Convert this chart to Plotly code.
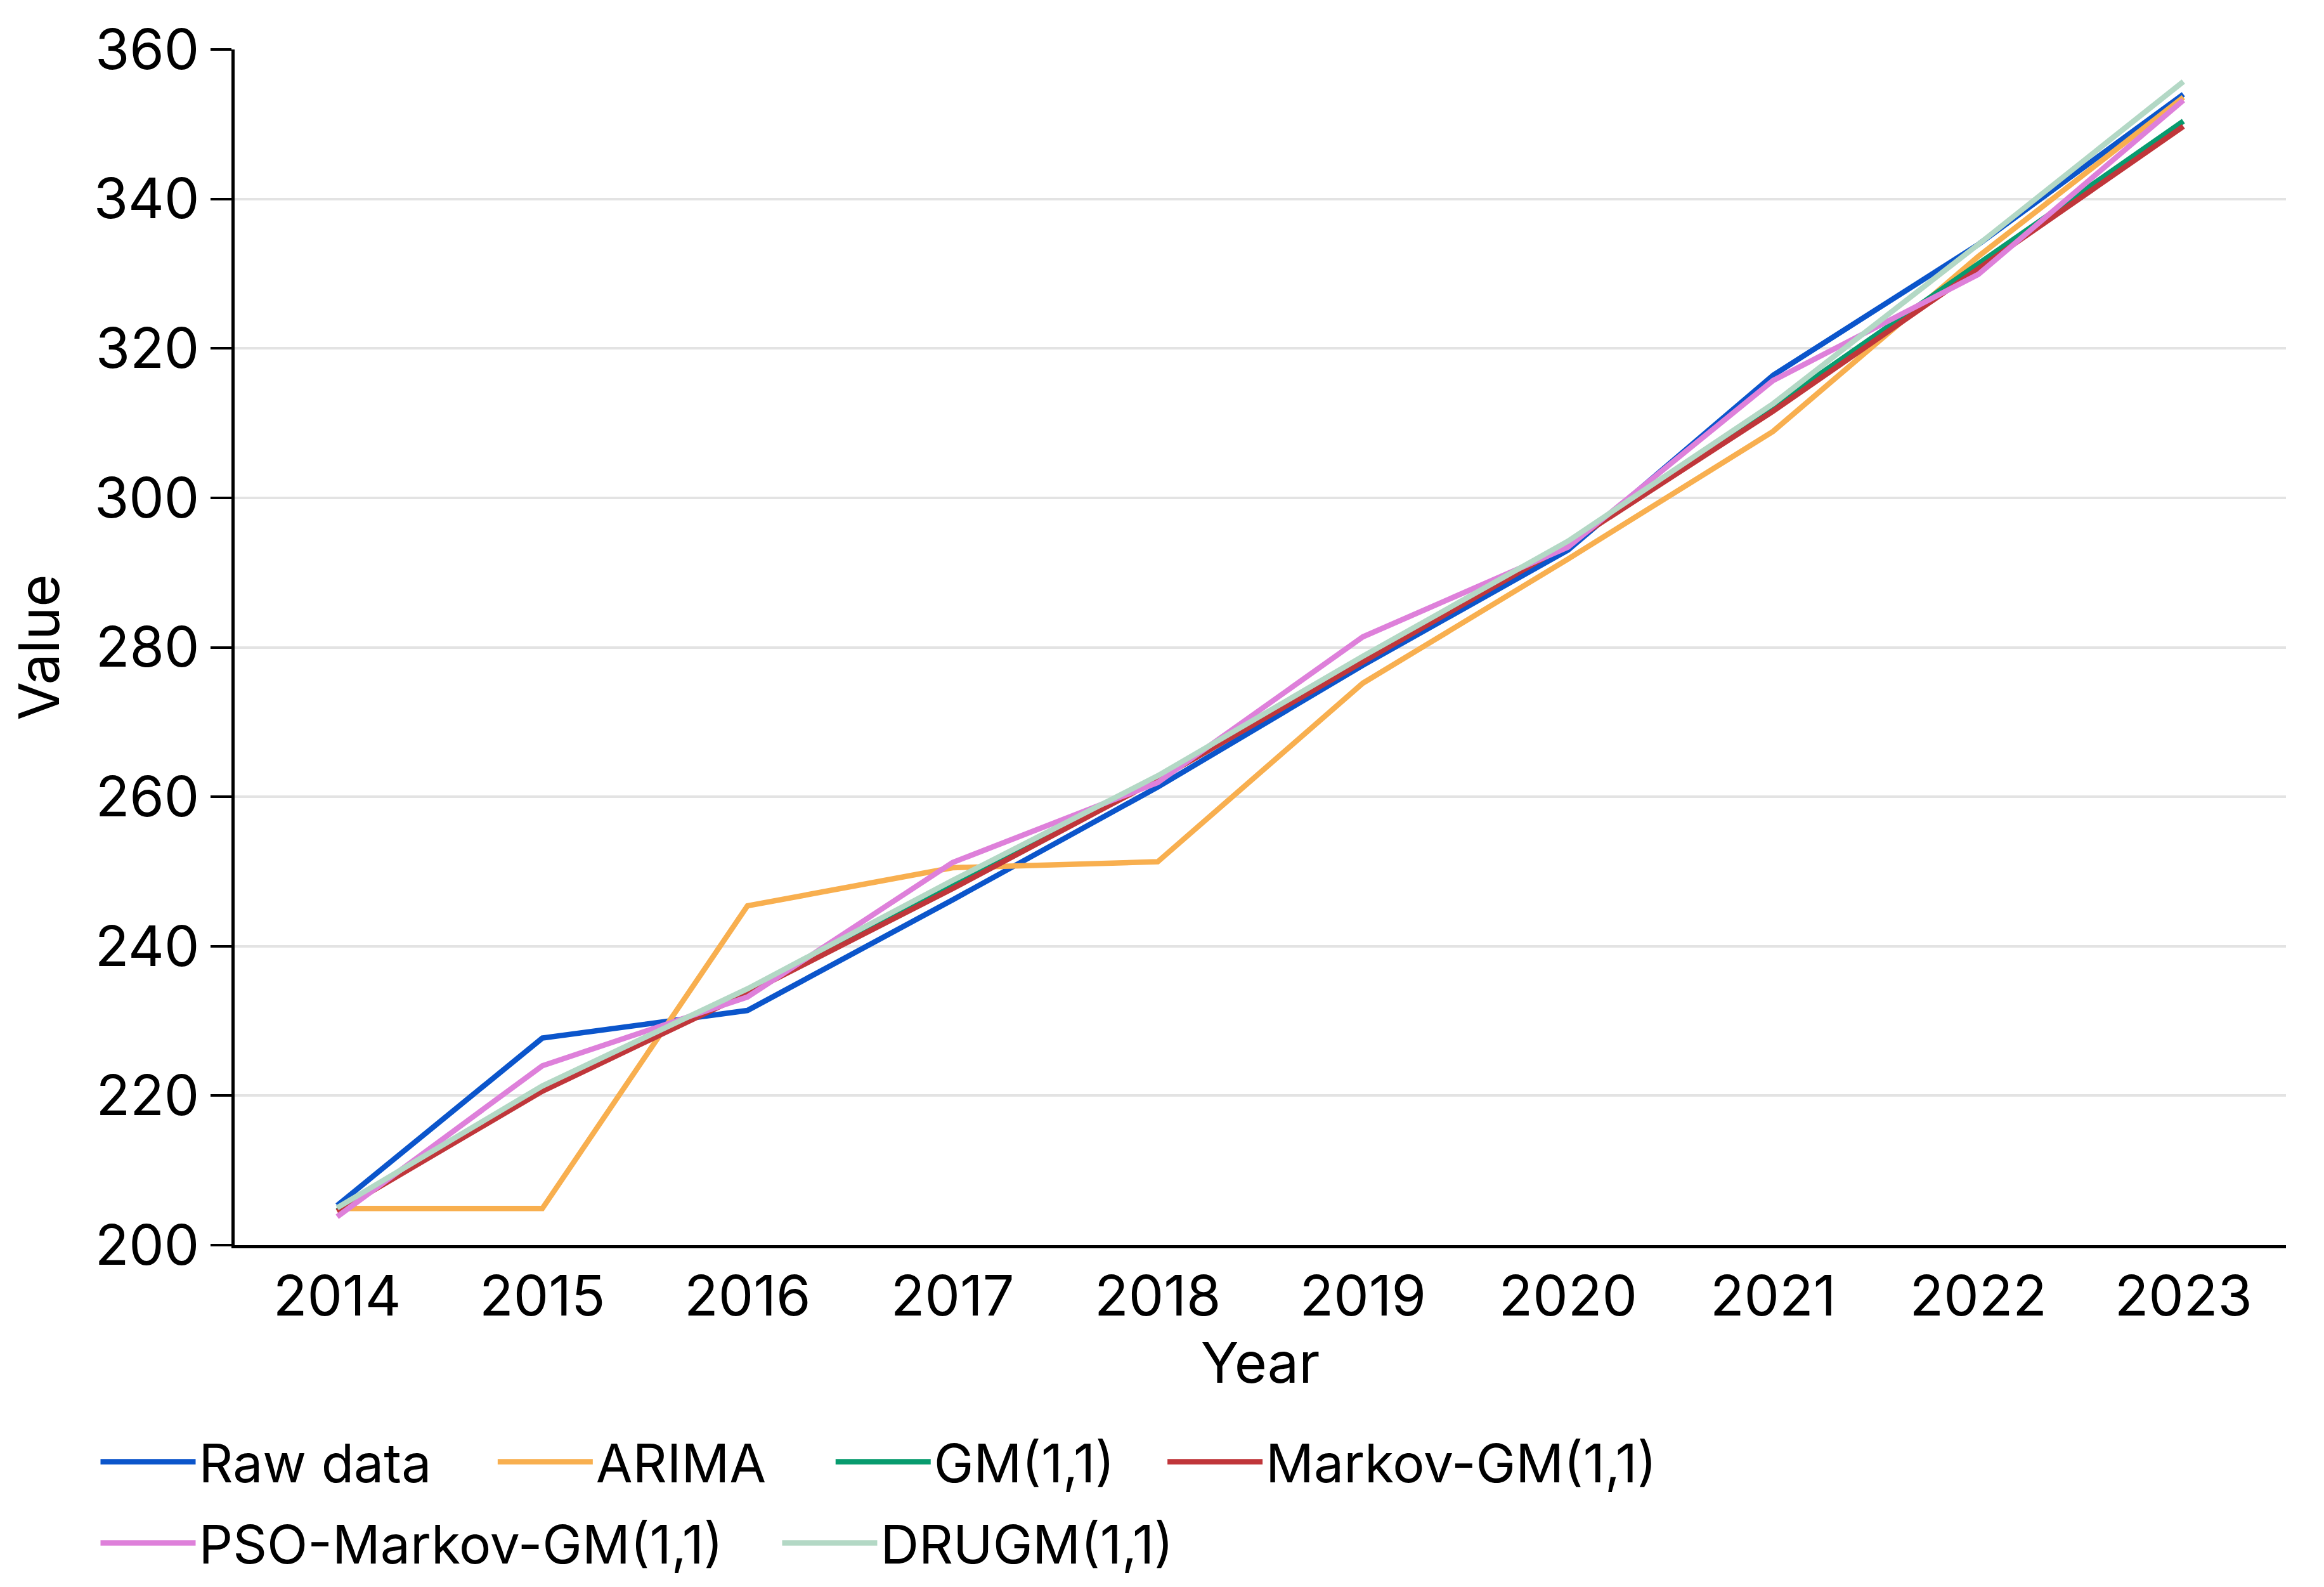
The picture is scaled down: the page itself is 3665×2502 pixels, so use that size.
import plotly.graph_objects as go

years = [2014, 2015, 2016, 2017, 2018, 2019, 2020, 2021, 2022, 2023]
raw_data = [205.3, 227.7, 231.4, 246.2, 261.3, 277.6, 293.0, 316.4, 333.9, 354.0]
arima = [204.9, 204.9, 245.4, 250.5, 251.3, 275.2, 291.8, 308.9, 332.3, 353.6]
gm11 = [204.6, 220.9, 234.0, 248.1, 262.5, 278.3, 294.0, 312.2, 331.2, 350.4]
markov_gm = [204.5, 220.6, 233.7, 247.7, 262.3, 278.0, 293.8, 311.6, 330.6, 349.7]
pso_markov_gm = [203.8, 224.0, 233.2, 251.2, 261.9, 281.4, 293.4, 315.7, 329.9, 353.2]
drugm = [205.0, 221.3, 234.3, 248.8, 262.8, 278.8, 294.2, 312.6, 333.9, 355.7]

series_names = ["Raw data", "ARIMA", "GM(1,1)", "Markov-GM(1,1)", "PSO-Markov-GM(1,1)", "DRUGM(1,1)"]
series_values = [raw_data, arima, gm11, markov_gm, pso_markov_gm, drugm]
colors = ["#0B55CB", "#F8AF4F", "#079B6E", "#C0363A", "#DE80DA", "#B3D8C5"]
legend_ids = ["legend", "legend2", "legend3", "legend4", "legend5", "legend6"]
legend_x = [0.0397, 0.2106, 0.3560, 0.4988, 0.0397, 0.3330]
legend_y = [1 - 2297 / 2502] * 4 + [1 - 2425 / 2502] * 2

y_ticks = [200, 220, 240, 260, 280, 300, 320, 340, 360]

FONT = "Inter"
FS = 88
LFS = 84

fig = go.Figure()
for name, vals, col, lg in zip(series_names, series_values, colors, legend_ids):
    fig.add_trace(go.Scatter(x=years, y=vals, mode="lines", name=name,
                             line=dict(color=col, width=8.5), legend=lg))

legend_layout = {}
for lg, lx, ly in zip(legend_ids, legend_x, legend_y):
    legend_layout[lg] = dict(orientation="h", xref="container", yref="container",
                             x=lx, y=ly, xanchor="left", yanchor="middle",
                             font=dict(family=FONT, size=LFS, color="black"),
                             itemwidth=150, bgcolor="rgba(0,0,0,0)")

fig.update_layout(
    width=3665, height=2502,
    paper_bgcolor="white", plot_bgcolor="white",
    margin=dict(l=362, r=68, t=70, b=547),
    font=dict(family=FONT, size=FS, color="black"),
    showlegend=True,
    **legend_layout,
)

fig.update_xaxes(
    range=[2013.5, 2023.5], tickmode="array", tickvals=years,
    ticktext=[str(y) for y in years],
    showgrid=False, zeroline=False,
    showline=True, linecolor="black", linewidth=5,
    ticks="", ticklabelstandoff=0,
    tickfont=dict(family=FONT, size=FS, color="black"),
    title=dict(text="Year", font=dict(family=FONT, size=FS, color="black"), standoff=26),
)
fig.update_yaxes(
    range=[200, 360], tickmode="array", tickvals=y_ticks,
    showgrid=True, gridcolor="#E3E3E3", gridwidth=4, zeroline=False,
    showline=True, linecolor="black", linewidth=5,
    ticks="outside", ticklen=33, tickwidth=4, tickcolor="black",
    tickfont=dict(family=FONT, size=FS, color="black"),
    title=dict(text="Value", font=dict(family=FONT, size=FS, color="black"), standoff=26),
)

fig.write_html("out.html")
